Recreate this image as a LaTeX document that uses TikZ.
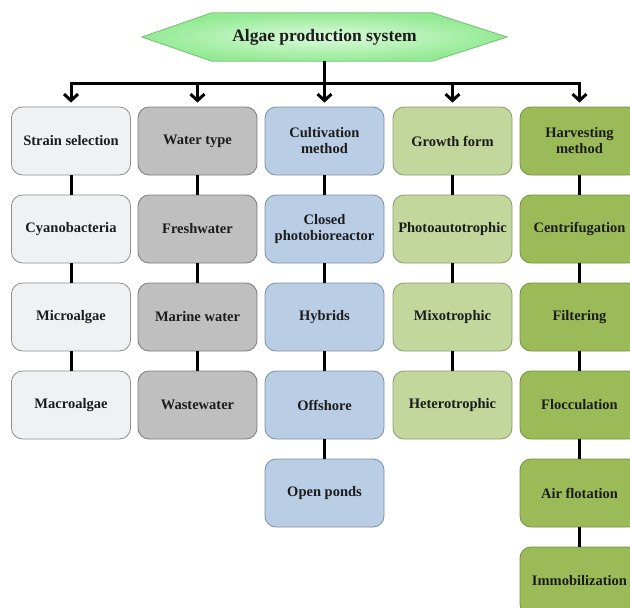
\documentclass[tikz,border=0pt]{standalone}
\usepackage{fontspec}
\setmainfont{Liberation Serif}
\usetikzlibrary{arrows.meta,calc,backgrounds}
\definecolor{cA}{HTML}{F0F1F3}\definecolor{bA}{HTML}{8C8C8C}
\definecolor{cB}{HTML}{BFBFBF}\definecolor{bB}{HTML}{7A7A7A}
\definecolor{cC}{HTML}{B9CDE5}\definecolor{bC}{HTML}{7D8DA3}
\definecolor{cD}{HTML}{C3D69B}\definecolor{bD}{HTML}{8A9A70}
\definecolor{cE}{HTML}{9BBB59}\definecolor{bE}{HTML}{74903E}
\definecolor{hexin}{HTML}{DDFADD}\definecolor{hexout}{HTML}{93EA93}
\definecolor{hexb}{HTML}{74BE74}
\definecolor{txt}{HTML}{1C1C1C}
\tikzset{
  box/.style={rectangle, rounded corners=11pt, minimum width=119pt, minimum height=68pt,
    line width=0.8pt, align=center, text=txt, font=\fontsize{14.5}{16}\selectfont\bfseries, inner sep=2pt},
  boxA/.style={box, fill=cA, draw=bA},
  boxB/.style={box, fill=cB, draw=bB},
  boxC/.style={box, fill=cC, draw=bC},
  boxD/.style={box, fill=cD, draw=bD},
  boxE/.style={box, fill=cE, draw=bE},
  link/.style={line width=3pt, black},
  arr/.style={line width=3pt, black, -{Straight Barb[length=6.5pt,width=14pt]}, shorten >=4pt}
}
\begin{document}
\begin{tikzpicture}[x=1pt,y=-1pt]
\useasboundingbox (0,0) rectangle (630,608);
\clip (0,0) rectangle (630,608);
% hexagon title
\node[minimum width=365pt, minimum height=48pt, inner sep=0pt, text=txt,
  font=\fontsize{17.5}{19}\selectfont\bfseries] (hex) at (324.5,37) {Algae production system};
\begin{pgfonlayer}{background}
\shade[inner color=hexin, outer color=hexout, draw=hexb, line width=0.8pt]
  (hex.west) -- ($(hex.north west)+(70,0)$) -- ($(hex.north east)+(-75,0)$) -- (hex.east)
  -- ($(hex.south east)+(-75,0)$) -- ($(hex.south west)+(70,0)$) -- cycle;
\end{pgfonlayer}
% column 1
\node[boxA] (a1) at (71,141) {Strain selection};
\node[boxA] (a2) at (71,229) {Cyanobacteria};
\node[boxA] (a3) at (71,317) {Microalgae};
\node[boxA] (a4) at (71,405) {Macroalgae};
% column 2
\node[boxB] (b1) at (197.5,141) {Water type};
\node[boxB] (b2) at (197.5,229) {Freshwater};
\node[boxB] (b3) at (197.5,317) {Marine water};
\node[boxB] (b4) at (197.5,405) {Wastewater};
% column 3
\node[boxC] (c1) at (324.5,141) {Cultivation\\method};
\node[boxC] (c2) at (324.5,229) {Closed\\photobioreactor};
\node[boxC] (c3) at (324.5,317) {Hybrids};
\node[boxC] (c4) at (324.5,405) {Offshore};
\node[boxC] (c5) at (324.5,493) {Open ponds};
% column 4
\node[boxD] (d1) at (452.5,141) {Growth form};
\node[boxD] (d2) at (452.5,229) {Photoautotrophic};
\node[boxD] (d3) at (452.5,317) {Mixotrophic};
\node[boxD] (d4) at (452.5,405) {Heterotrophic};
% column 5
\node[boxE] (e1) at (579.5,141) {Harvesting\\method};
\node[boxE] (e2) at (579.5,229) {Centrifugation};
\node[boxE] (e3) at (579.5,317) {Filtering};
\node[boxE] (e4) at (579.5,405) {Flocculation};
\node[boxE] (e5) at (579.5,493) {Air flotation};
\node[boxE] (e6) at (579.5,581) {Immobilization};
% tree connectors
\coordinate (hub) at (324.5,83);
\coordinate (t1) at (71,83);
\coordinate (t2) at (197.5,83);
\coordinate (t4) at (452.5,83);
\coordinate (t5) at (579.5,83);
\draw[link] (hex.south) -- (hub);
\draw[link] ([xshift=-1.5pt]t1) -- ([xshift=1.5pt]t5);
\draw[arr] (t1) -- (a1.north);
\draw[arr] (t2) -- (b1.north);
\draw[arr] (hub) -- (c1.north);
\draw[arr] (t4) -- (d1.north);
\draw[arr] (t5) -- (e1.north);
% vertical links
\foreach \p/\q in {a1/a2,a2/a3,a3/a4,b1/b2,b2/b3,b3/b4,c1/c2,c2/c3,c3/c4,c4/c5,
                   d1/d2,d2/d3,d3/d4,e1/e2,e2/e3,e3/e4,e4/e5,e5/e6}
  \draw[link] (\p.south) -- (\q.north);
\end{tikzpicture}
\end{document}
